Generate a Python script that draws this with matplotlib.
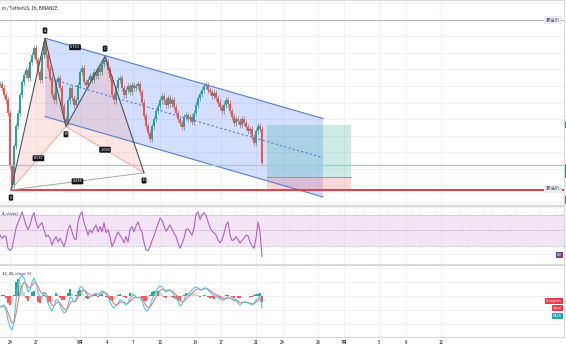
import matplotlib
matplotlib.use("Agg")
import matplotlib.pyplot as plt
import matplotlib.transforms as mtransforms
from matplotlib.patches import Polygon, Rectangle
import numpy as np
import pandas as pd

plt.rcParams["font.family"] = ["Noto Sans CJK SC", "DejaVu Sans"]

W, H = 566, 350

# ---- data ----
TITLE = "in / TetherUS, 1h, BINANCE"
START_DAY = -1.136          # first bar, days after May 24
BAR_DAYS = 0.2273           # spacing of the bars shown

close = [117, 113, 106, 101, 89, 36, 17, 56, 76, 89, 106, 119, 126, 131, 123, 139, 146, 153,
         141, 129, 121, 146, 159, 146, 133, 123, 106, 101, 119, 123, 113, 96, 83, 79, 101, 113,
         103, 97, 101, 116, 129, 133, 119, 116, 121, 125, 121, 129, 125, 133, 129, 137, 141, 139,
         131, 123, 106, 101, 113, 121, 123, 113, 106, 111, 115, 109, 116, 113, 115, 117, 109, 99,
         86, 76, 69, 63, 76, 83, 91, 96, 101, 105, 101, 97, 103, 98, 101, 95, 89, 83, 79, 75,
         85, 87, 83, 85, 80, 89, 97, 103, 107, 111, 115, 116, 111, 109, 105, 108, 103, 99, 95, 91,
         97, 101, 98, 91, 85, 79, 83, 81, 77, 83, 79, 75, 71, 73, 65, 59, 71, 76, 73, 39]

rsi = [44, 40, 43, 42, 27, 24, 27, 40, 53, 60, 66, 74, 66, 57, 51, 57, 67, 73, 61, 53, 57, 60,
       51, 42, 44, 40, 31, 38, 42, 35, 40, 35, 29, 38, 51, 57, 48, 40, 38, 61, 70, 74, 60, 53,
       44, 51, 47, 53, 57, 48, 55, 48, 60, 47, 51, 42, 29, 35, 42, 48, 44, 40, 34, 42, 35, 51,
       55, 48, 56, 61, 53, 48, 34, 25, 24, 29, 37, 43, 51, 58, 66, 63, 56, 49, 53, 57, 52, 46,
       42, 34, 27, 33, 40, 51, 52, 48, 44, 53, 71, 74, 64, 70, 73, 69, 61, 54, 49, 47, 44, 38,
       34, 38, 46, 57, 61, 44, 37, 38, 42, 38, 34, 37, 40, 44, 43, 35, 30, 27, 40, 61, 48, 16]

macd = [-11, -10, -9, -14, -24, -31, -34, -26, -4, 11, 18, 21, 18, 11, 4, 6, 14, 18, 13, 4,
        -2, -1, 4, 1, -7, -12, -15, -10, -4, -4, -9, -14, -17, -16, -9, -1, -2, -6, -4, 4,
        9, 9, 6, 3, 0, -1, 0, 2, 3, 1, 3, 5, 4, 2, -1, -6, -10, -12, -10, -7,
        -4, -5, -7, -9, -7, -2, 0, 1, -1, -2, -1, -5, -11, -15, -14, -10, -4, 1, 4, 8,
        10, 9, 6, 4, 6, 6, 4, 1, -2, -5, -10, -8, -4, 0, 2, 4, 6, 8, 9, 8,
        6, 6, 8, 8, 6, 4, 2, 0, 0, -1, -3, -4, -4, -2, -1, -2, -3, -5, -4, -7,
        -9, -7, -6, -6, -7, -8, -9, -7, -4, -2, 0, -12]

tick_days = [0, 3, 8, 11, 14, 17, 21, 24, 28, 31, 35, 38, 42, 45, 49]
tick_labels = ["24", "27", "6月", "4", "7", "10", "14", "17", "21", "24", "28", "7月", "5", "8", "12"]

pattern_names = ["X", "A", "B", "C", "D"]
pattern_days = [0.11, 3.98, 6.36, 10.8, 15.23]
pattern_prices = [12, 163, 75, 145, 29]
ratio_pairs = [("A", "C", "0.763"), ("X", "B", "0.587"), ("B", "D", "1.698"), ("X", "D", "0.885")]

chan_days = [3.98, 35.57]
chan_top = [163, 83]
chan_bot = [85, 5]

pos_days = [29.2, 38.75]
pos_target, pos_entry, pos_stop = 77, 25, 11.5

level_teal = 37
level_high = 181
level_low = 13

# ---- figure ----
fig = plt.figure(figsize=(W / 100, H / 100), dpi=100)
fig.patch.set_facecolor("white")

GRID = "#eef0f5"
SEP = "#d6d9e0"
X0, X1 = -10 / 8.8, (564 - 10) / 8.8


def pane(top, bottom):
    ax = fig.add_axes([0, 1 - bottom / H, 564 / W, (bottom - top) / H])
    ax.set_xlim(X0, X1)
    ax.spines["left"].set_visible(False)
    for s in ["top", "bottom", "right"]:
        ax.spines[s].set_color(SEP)
        ax.spines[s].set_linewidth(0.8)
    ax.set_xticks(tick_days)
    ax.tick_params(length=0, labelleft=False, labelbottom=False)
    ax.grid(True, color=GRID, lw=0.6, zorder=0)
    ax.set_axisbelow(True)
    return ax


ax = pane(0, 205)
ax_rsi = pane(205.5, 264)
ax_macd = pane(264.5, 337)

t = START_DAY + np.arange(len(close)) * BAR_DAYS
c = np.array(close, float)
o = np.r_[c[0], c[:-1]]
hi = np.maximum(o, c) + 3
lo = np.minimum(o, c) - 3
up = c >= o
col = np.where(up, "#26a69a", "#ef5350")

# main pane
ax.set_ylim(-3, 201)
ax.set_yticks(np.arange(0, 200, 16.5))

ax.vlines(t, lo, hi, colors=col, lw=0.5, zorder=3)
ax.bar(t, np.maximum(np.abs(c - o), 0.6), bottom=np.minimum(o, c), width=BAR_DAYS * 0.7,
       color=col, lw=0, zorder=3)

# parallel channel
ax.add_patch(Polygon([(chan_days[0], chan_top[0]), (chan_days[1], chan_top[1]),
                      (chan_days[1], chan_bot[1]), (chan_days[0], chan_bot[0])],
                     closed=True, fc="#2962ff", alpha=0.2, lw=0, zorder=1))
ax.plot(chan_days, chan_top, color="#4f7fd9", lw=0.8, zorder=4)
ax.plot(chan_days, chan_bot, color="#4f7fd9", lw=0.8, zorder=4)
ax.plot(chan_days, [(chan_top[0] + chan_bot[0]) / 2, (chan_top[1] + chan_bot[1]) / 2],
        color="#4f7fd9", lw=0.8, ls=(0, (2, 2)), zorder=4)

# long position
ax.add_patch(Rectangle((pos_days[0], pos_entry), pos_days[1] - pos_days[0], pos_target - pos_entry,
                       fc="#089981", alpha=0.2, lw=0, zorder=2))
ax.add_patch(Rectangle((pos_days[0], pos_stop), pos_days[1] - pos_days[0], pos_entry - pos_stop,
                       fc="#f23645", alpha=0.2, lw=0, zorder=2))
ax.plot(pos_days, [pos_entry, pos_entry], color="#9598a1", lw=0.7, zorder=4)

# horizontal levels
ax.axhline(level_teal, color="#8fd3cc", lw=0.9, zorder=4)
ax.hlines(pos_stop, pattern_days[0], X1, color="#f23645", lw=1.4, zorder=4)
ax.hlines(level_high, X0, X1, color="#b8bbc4", lw=0.8, zorder=2)

# harmonic pattern
P = dict(zip(pattern_names, zip(pattern_days, pattern_prices)))
for tri in [("X", "A", "B"), ("B", "C", "D")]:
    ax.add_patch(Polygon([P[k] for k in tri], closed=True, fc="#f7a59a", alpha=0.28, lw=0, zorder=2))
ax.plot(pattern_days, pattern_prices, color="#50535e", lw=0.8, zorder=5)
for a, b in [("X", "B"), ("B", "D")]:
    ax.plot([P[a][0], P[b][0]], [P[a][1], P[b][1]], color="#f4a9a0", lw=0.7, zorder=4)
ax.plot([P["X"][0], P["D"][0]], [P["X"][1], P["D"][1]], color="#a3a6af", lw=0.7, zorder=4)

box = dict(boxstyle="round,pad=0.25", fc="#131722", ec="none")
for name, (d, p) in P.items():
    above = name in ("A", "C")
    ax.annotate(name, (d, p), xytext=(0, 5.5 if above else -5.5), textcoords="offset points",
                ha="center", va="center", fontsize=3, color="white", bbox=box, zorder=7)
for a, b, txt in ratio_pairs:
    ax.text((P[a][0] + P[b][0]) / 2, (P[a][1] + P[b][1]) / 2, txt, ha="center", va="center",
            fontsize=2.8, color="white", bbox=box, zorder=7)

bt = mtransforms.blended_transform_factory(ax.transAxes, ax.transData)
tag = dict(boxstyle="square,pad=0.25", fc="#e9ecf5", ec="none")
ax.text(0.995, level_high, "最高价 -", transform=bt, ha="right", va="center", fontsize=3.2,
        color="#50535e", bbox=tag, zorder=8)
ax.text(0.995, level_low, "最低价 -", transform=bt, ha="right", va="center", fontsize=3.2,
        color="#50535e", bbox=tag, zorder=8)
for p, h, fc in [(pos_target, 7, "#089981"), (31, 14, "#089981"), (2, 8, "#f23645")]:
    ax.add_patch(Rectangle((1.0, p - h / 2), 0.006, h, transform=bt, fc=fc, lw=0, clip_on=False))

ax.text(0.003, 0.958, TITLE, transform=ax.transAxes, ha="left", va="center", fontsize=3.2,
        color="#131722")

# RSI pane
ax_rsi.set_ylim(6.8, 82.1)
ax_rsi.set_yticks([20, 80])
ax_rsi.axhspan(30, 70, color="#e1bee7", alpha=0.4, lw=0, zorder=1)
for lvl in (30, 50, 70):
    ax_rsi.axhline(lvl, color="#a39bb0", lw=0.5, ls=(0, (1.5, 1.5)), zorder=2)
ax_rsi.plot(t, rsi, color="#b35fc8", lw=0.8, zorder=3)
ax_rsi.text(0.003, 0.86, "4, close)", transform=ax_rsi.transAxes, fontsize=3, color="#131722",
            va="center")
rt = mtransforms.blended_transform_factory(ax_rsi.transAxes, ax_rsi.transData)
ax_rsi.text(0.996, 19, "RSI", transform=rt, ha="right", va="center", fontsize=2.4, color="white",
            bbox=dict(boxstyle="square,pad=0.3", fc="#7b3f8f", ec="none"), zorder=8)

# MACD pane
m = pd.Series(macd, dtype=float)
signal = m.ewm(span=4, adjust=False).mean()
hist = (m - signal).to_numpy()
prev = np.r_[0, hist[:-1]]
hcol = np.where(hist >= 0, np.where(hist >= prev, "#26a69a", "#b2dfdb"),
                np.where(hist < prev, "#ff5252", "#ffcdd2"))
ax_macd.set_ylim(-41, 31.5)
ax_macd.set_yticks([-28, -14, 0, 14, 28])
ax_macd.bar(t, hist, width=BAR_DAYS * 0.8, color=hcol, lw=0, zorder=2)
ax_macd.plot(t, signal, color="#f47c5f", lw=0.8, zorder=3)
ax_macd.plot(t, m, color="#4fc3f7", lw=0.8, zorder=4)
ax_macd.text(0.003, 0.88, "12, 26, close, 9)", transform=ax_macd.transAxes, fontsize=3,
             color="#131722", va="center")
for yf, txt, fc in [(0.5, "Histogram", "#f23645"), (0.4, "Signal", "#f23645"), (0.29, "MACD", "#22a5b8")]:
    ax_macd.text(0.996, yf, txt, transform=ax_macd.transAxes, ha="right", va="center",
                 fontsize=2.3, color="white", bbox=dict(boxstyle="square,pad=0.3", fc=fc, ec="none"),
                 zorder=8)

ax_macd.set_xticklabels(tick_labels)
ax_macd.tick_params(labelbottom=True, labelsize=3.2, pad=2.5, colors="#131722")

fig.savefig("out.png", dpi=100, facecolor="white")
